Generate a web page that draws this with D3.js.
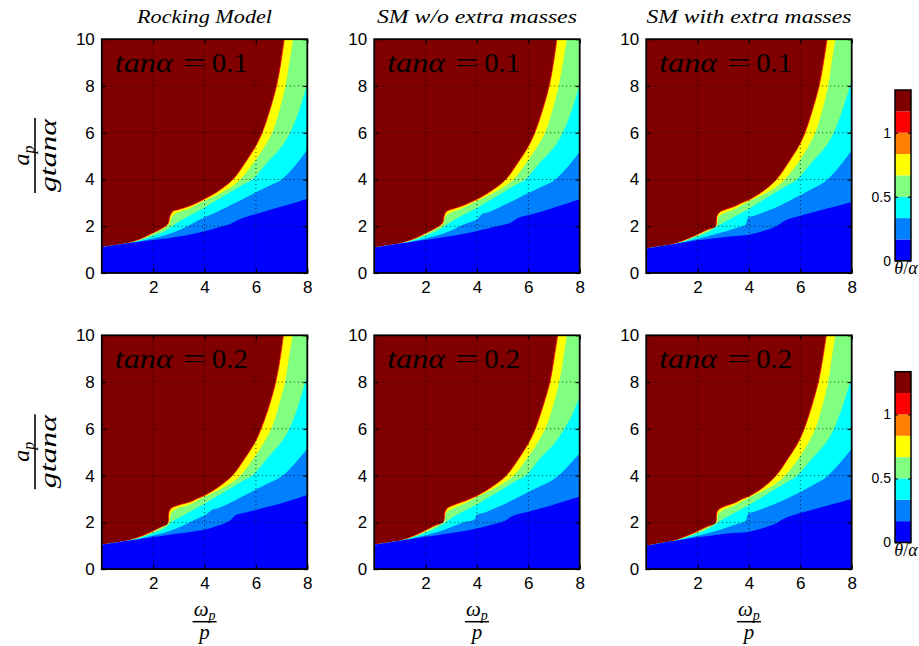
<!DOCTYPE html>
<html>
<head>
<meta charset="utf-8">
<title>Rocking response maps</title>
<script src="https://d3js.org/d3.v7.min.js"></script>
<style>
  body { margin: 0; background: #fff; }
  svg { display: block; }
  .tick text { font-family: "Liberation Sans", Arial, sans-serif; fill: #000; }
  .math { font-family: "Liberation Serif", "Times New Roman", serif; font-style: italic; fill: #000; }
  .rm { font-family: "Liberation Serif", "Times New Roman", serif; font-style: normal; fill: #000; }
</style>
</head>
<body>
<svg id="chart" width="919" height="646"></svg>
<script>
// ---- data ----
var models = ["Rocking Model", "SM w/o extra masses", "SM with extra masses"];
var tanAlphas = ["0.1", "0.2"];
var xTicks = [2, 4, 6, 8];
var yTicks = [0, 2, 4, 6, 8, 10];
var cbTicks = [0, 0.5, 1];
// theta/alpha contour levels and the jet(8) colours between them
var levels = [0, 1/6, 2/6, 3/6, 4/6, 5/6, 1, 7/6, 8/6];
var bandColors = ["#0000ff", "#0080ff", "#00ffff", "#80ff80", "#ffff00", "#ff8000", "#ff0000", "#800000"];

// contour boundaries [omega_p/p, a_p/(g tan alpha)]
// b1: 1/6, b2: 2/6, b3: 3/6, b4: 4/6, top: lower edge of the overturning (dark red) zone
var rm01 = {
  b1: [[0,1.1],[0.5,1.19],[1,1.27],[1.5,1.34],[2,1.41],[2.5,1.48],[3,1.56],[3.5,1.66],[4,1.79],[4.5,1.94],[5,2.1],[5.3,2.27],[5.6,2.4],[6,2.52],[6.5,2.68],[7,2.84],[7.5,3.0],[8,3.18]],
  b2: [[0,1.1],[0.5,1.19],[1,1.27],[1.5,1.37],[2,1.49],[2.5,1.63],[3,1.83],[3.5,2.1],[4,2.38],[4.5,2.62],[5.2,3.0],[6,3.45],[6.5,3.72],[7,4.0],[7.5,4.55],[8,5.28]],
  b3: [[0,1.1],[0.5,1.19],[1,1.27],[1.5,1.4],[2,1.6],[2.5,1.82],[2.85,2.08],[3,2.2],[3.5,2.5],[4,2.8],[4.3,3.0],[5,3.45],[5.5,3.78],[5.86,4.0],[6.5,4.8],[7,5.4],[7.33,6.0],[7.7,7.0],[8,8.1]],
  b4: [[0,1.1],[0.5,1.19],[1,1.27],[1.5,1.43],[2,1.68],[2.4,1.9],[2.62,2.08],[2.74,2.42],[2.9,2.56],[3.5,2.8],[3.83,3.0],[4.5,3.35],[5,3.65],[5.4,4.0],[6,4.85],[6.3,5.35],[6.63,6.0],[6.9,6.9],[7.15,8],[7.3,9],[7.45,10]],
  top: [[0,1.1],[0.5,1.19],[1,1.27],[1.5,1.45],[2,1.72],[2.4,1.95],[2.58,2.12],[2.66,2.45],[2.78,2.65],[3,2.72],[3.5,2.9],[3.7,3.0],[4,3.17],[4.5,3.48],[5.1,4.0],[5.6,4.75],[6.0,5.45],[6.24,6.0],[6.55,7.0],[6.8,8.0],[6.97,9.0],[7.1,10]]
};
var smwo01 = {
  b1: [[0,1.09],[0.5,1.18],[1,1.26],[1.5,1.34],[2,1.42],[2.5,1.5],[3,1.58],[3.5,1.68],[4,1.8],[4.5,1.93],[5,2.05],[5.3,2.14],[5.6,2.35],[6,2.48],[6.5,2.62],[7,2.8],[7.5,2.97],[8,3.15]],
  b2: [[0,1.09],[0.5,1.18],[1,1.26],[1.5,1.36],[2,1.48],[2.5,1.62],[3,1.82],[3.5,2.08],[4,2.3],[4.2,2.52],[4.5,2.62],[5.2,2.98],[6,3.42],[6.5,3.68],[7,3.96],[7.5,4.5],[8,5.19]],
  b3: [[0,1.09],[0.5,1.18],[1,1.26],[1.5,1.39],[2,1.6],[2.5,1.83],[2.85,2.08],[3,2.2],[3.5,2.5],[4,2.78],[4.3,2.98],[5,3.43],[5.5,3.76],[5.86,3.98],[6.5,4.78],[7,5.38],[7.33,5.98],[7.7,6.98],[8,8.04]],
  b4: [[0,1.09],[0.5,1.18],[1,1.26],[1.5,1.42],[2,1.66],[2.45,1.92],[2.68,2.1],[2.8,2.45],[2.95,2.56],[3.5,2.8],[3.85,3.0],[4.5,3.35],[5,3.65],[5.42,4.0],[6,4.83],[6.3,5.33],[6.65,6.0],[6.92,6.9],[7.18,8],[7.35,9],[7.5,10]],
  top: [[0,1.09],[0.5,1.18],[1,1.26],[1.5,1.44],[2,1.7],[2.45,1.96],[2.66,2.14],[2.74,2.5],[2.85,2.66],[3,2.72],[3.5,2.9],[3.7,3.0],[4,3.15],[4.5,3.47],[5.1,3.98],[5.6,4.73],[6,5.42],[6.25,6.0],[6.56,7.0],[6.81,8.0],[6.98,9.0],[7.11,10]]
};
var smw01 = {
  b1: [[0,1.04],[0.5,1.13],[1,1.22],[1.5,1.31],[2,1.4],[2.5,1.47],[3,1.53],[3.5,1.58],[4,1.64],[4.5,1.78],[5,1.97],[5.4,2.24],[5.6,2.33],[6,2.45],[6.5,2.6],[7,2.75],[7.5,2.89],[8,3.04]],
  b2: [[0,1.04],[0.5,1.13],[1,1.22],[1.5,1.33],[2,1.46],[2.5,1.6],[3,1.75],[3.5,1.93],[3.85,2.05],[3.98,2.38],[4.2,2.45],[5,2.78],[5.6,3.1],[6.5,3.62],[7,3.95],[7.5,4.52],[8,5.26]],
  b3: [[0,1.04],[0.5,1.13],[1,1.22],[1.5,1.36],[2,1.56],[2.5,1.8],[2.85,2.05],[3,2.15],[3.5,2.45],[4,2.74],[4.3,2.95],[5,3.42],[5.5,3.75],[5.85,3.98],[6.5,4.8],[7,5.42],[7.3,6.0],[7.65,7.0],[8,8.26]],
  b4: [[0,1.04],[0.5,1.13],[1,1.22],[1.5,1.39],[2,1.62],[2.45,1.85],[2.72,2.0],[2.82,2.4],[2.95,2.52],[3.5,2.76],[3.82,2.97],[4.5,3.33],[5,3.63],[5.38,3.98],[6,4.85],[6.3,5.4],[6.58,6.0],[6.85,6.95],[7.08,8],[7.22,9],[7.36,10]],
  top: [[0,1.04],[0.5,1.13],[1,1.22],[1.5,1.41],[2,1.65],[2.45,1.88],[2.68,1.92],[2.76,2.45],[2.86,2.6],[3,2.68],[3.5,2.88],[3.7,2.99],[4,3.13],[4.5,3.46],[5.05,3.98],[5.55,4.75],[5.95,5.45],[6.18,6.0],[6.48,7.0],[6.73,8.0],[6.9,9.0],[7.04,10]]
};
var rm02 = {
  b1: [[0,1.04],[0.5,1.13],[1,1.21],[1.5,1.29],[2,1.37],[2.5,1.45],[3,1.52],[3.5,1.6],[4,1.68],[4.5,1.85],[5,2.08],[5.2,2.3],[5.6,2.42],[6,2.53],[6.5,2.68],[7,2.82],[7.5,2.99],[8,3.17]],
  b2: [[0,1.04],[0.5,1.13],[1,1.21],[1.5,1.31],[2,1.44],[2.5,1.58],[3,1.78],[3.5,2.05],[4,2.3],[4.3,2.54],[4.6,2.64],[5.2,2.95],[6,3.4],[6.5,3.68],[7,3.97],[7.5,4.5],[8,5.16]],
  b3: [[0,1.04],[0.5,1.13],[1,1.21],[1.5,1.34],[2,1.54],[2.5,1.78],[2.75,2.05],[3,2.2],[3.5,2.5],[4,2.8],[4.3,3.0],[5,3.45],[5.5,3.78],[5.86,4.0],[6.5,4.82],[7,5.45],[7.3,6.0],[7.65,7.0],[8,8.3]],
  b4: [[0,1.04],[0.5,1.13],[1,1.21],[1.5,1.37],[2,1.6],[2.35,1.8],[2.58,1.95],[2.7,2.4],[2.85,2.55],[3.5,2.8],[3.82,3.0],[4.5,3.35],[5,3.66],[5.4,4.0],[6,4.88],[6.3,5.4],[6.6,6.0],[6.88,6.95],[7.13,8],[7.28,9],[7.43,10]],
  top: [[0,1.04],[0.5,1.13],[1,1.21],[1.5,1.39],[2,1.63],[2.35,1.82],[2.55,1.9],[2.62,2.45],[2.72,2.62],[3,2.74],[3.5,2.9],[3.68,3.0],[4,3.15],[4.5,3.48],[5.08,4.0],[5.58,4.76],[5.98,5.46],[6.2,6.0],[6.52,7.0],[6.77,8.0],[6.94,9.0],[7.07,10]]
};
var smwo02 = {
  b1: [[0,1.04],[0.5,1.13],[1,1.21],[1.5,1.3],[2,1.38],[2.5,1.46],[3,1.54],[3.5,1.63],[4,1.74],[4.5,1.88],[5,2.02],[5.4,2.28],[5.7,2.38],[6,2.45],[6.5,2.6],[7,2.76],[7.5,2.93],[8,3.1]],
  b2: [[0,1.04],[0.5,1.13],[1,1.21],[1.5,1.32],[2,1.45],[2.5,1.6],[3,1.8],[3.5,2.0],[3.9,2.12],[4.0,2.32],[4.3,2.42],[5.2,2.85],[6,3.3],[6.5,3.56],[7,3.85],[7.5,4.35],[8,4.95]],
  b3: [[0,1.04],[0.5,1.13],[1,1.21],[1.5,1.35],[2,1.56],[2.5,1.8],[2.85,2.06],[3,2.18],[3.5,2.48],[4,2.76],[4.3,2.97],[5,3.42],[5.5,3.76],[5.9,4.0],[6.5,4.78],[7,5.35],[7.4,6.0],[7.75,6.7],[8,7.4]],
  b4: [[0,1.04],[0.5,1.13],[1,1.21],[1.5,1.38],[2,1.62],[2.45,1.86],[2.7,2.02],[2.82,2.42],[2.97,2.55],[3.5,2.8],[3.85,3.0],[4.5,3.35],[5,3.65],[5.43,4.0],[6,4.82],[6.3,5.3],[6.66,6.0],[6.94,6.9],[7.2,8],[7.36,9],[7.5,10]],
  top: [[0,1.04],[0.5,1.13],[1,1.21],[1.5,1.4],[2,1.66],[2.45,1.9],[2.68,1.95],[2.76,2.45],[2.86,2.62],[3,2.7],[3.5,2.9],[3.72,3.0],[4,3.14],[4.5,3.46],[5.12,3.98],[5.62,4.72],[6.02,5.42],[6.27,6.0],[6.58,7.0],[6.84,8.0],[7.0,9.0],[7.14,10]]
};
var smw02 = {
  b1: [[0,1.0],[0.5,1.1],[1,1.19],[1.5,1.28],[2,1.36],[2.5,1.43],[3,1.5],[3.5,1.55],[4,1.6],[4.5,1.74],[5,1.93],[5.4,2.18],[5.7,2.3],[6,2.4],[6.5,2.55],[7,2.7],[7.5,2.85],[8,3.0]],
  b2: [[0,1.0],[0.5,1.1],[1,1.19],[1.5,1.3],[2,1.43],[2.5,1.57],[3,1.73],[3.5,1.92],[3.85,2.05],[3.98,2.38],[4.2,2.45],[5,2.78],[5.6,3.08],[6.5,3.6],[7,3.93],[7.5,4.48],[8,5.16]],
  b3: [[0,1.0],[0.5,1.1],[1,1.19],[1.5,1.33],[2,1.53],[2.5,1.77],[2.85,2.03],[3,2.14],[3.5,2.44],[4,2.73],[4.3,2.94],[5,3.4],[5.5,3.74],[5.85,3.97],[6.5,4.78],[7,5.4],[7.3,5.98],[7.65,6.98],[8,8.2]],
  b4: [[0,1.0],[0.5,1.1],[1,1.19],[1.5,1.36],[2,1.59],[2.45,1.82],[2.72,1.98],[2.82,2.38],[2.95,2.5],[3.5,2.75],[3.82,2.96],[4.5,3.32],[5,3.62],[5.38,3.97],[6,4.84],[6.3,5.38],[6.58,6.0],[6.85,6.95],[7.08,8],[7.22,9],[7.36,10]],
  top: [[0,1.0],[0.5,1.1],[1,1.19],[1.5,1.38],[2,1.62],[2.45,1.85],[2.68,1.9],[2.76,2.45],[2.86,2.58],[3,2.66],[3.5,2.86],[3.7,2.98],[4,3.12],[4.5,3.45],[5.03,3.97],[5.52,4.73],[5.92,5.43],[6.15,6.0],[6.45,7.0],[6.7,8.0],[6.87,9.0],[7.01,10]]
};
var panels = [[rm01, smwo01, smw01], [rm02, smwo02, smw02]];

// ---- layout ----
var svg = d3.select("#chart");
var colLeft = [101.8, 374.2, 646.2], pw = 205.5;
var rowTop = [39.2, 335.3], ph = 233.8;
var cbX = 895, cbW = 16, cbTop = [90, 371.7], cbH = 170.8;
var titleW = [135, 200, 205];

var line = d3.line().curve(d3.curveCatmullRom.alpha(0.5));

panels.forEach(function(row, r) {
  row.forEach(function(d, c) {
    var x = d3.scaleLinear().domain([0, 8]).range([colLeft[c], colLeft[c] + pw]);
    var y = d3.scaleLinear().domain([0, 10]).range([rowTop[r] + ph, rowTop[r]]);
    line.x(function(p) { return x(p[0]); }).y(function(p) { return y(p[1]); });

    var id = "clip" + r + c;
    svg.append("clipPath").attr("id", id).append("rect")
        .attr("x", x(0)).attr("y", y(10)).attr("width", pw).attr("height", ph);
    var g = svg.append("g").attr("clip-path", "url(#" + id + ")");

    // region under a boundary, closed along the right and bottom edges
    function region(pts) {
      var last = pts[pts.length - 1];
      return line(pts) + "L" + x(8) + "," + y(last[1]) + "L" + x(8) + "," + y(0) + "L" + x(0) + "," + y(0) + "Z";
    }

    g.append("rect").attr("x", x(0)).attr("y", y(10)).attr("width", pw).attr("height", ph)
        .attr("fill", bandColors[7]);
    g.append("path").attr("d", region(d.top)).attr("fill", bandColors[4]);
    g.append("path").attr("d", line(d.top)).attr("fill", "none")
        .attr("stroke", bandColors[6]).attr("stroke-width", 0.8);
    g.append("path").attr("d", region(d.b4)).attr("fill", bandColors[3]);
    g.append("path").attr("d", region(d.b3)).attr("fill", bandColors[2]);
    g.append("path").attr("d", region(d.b2)).attr("fill", bandColors[1]);
    g.append("path").attr("d", region(d.b1)).attr("fill", bandColors[0]);

    // grid
    g.selectAll(".gx").data(xTicks.filter(function(t) { return t < 8; })).enter().append("line")
        .attr("x1", x).attr("x2", x).attr("y1", y(0)).attr("y2", y(10))
        .attr("stroke", "#000").attr("stroke-width", 0.8).attr("stroke-dasharray", "1,3");
    g.selectAll(".gy").data(yTicks.filter(function(t) { return t > 0 && t < 10; })).enter().append("line")
        .attr("y1", y).attr("y2", y).attr("x1", x(0)).attr("x2", x(8))
        .attr("stroke", "#000").attr("stroke-width", 0.8).attr("stroke-dasharray", "1,3");

    // axes, ticks pointing inwards like matlab
    var ax = svg.append("g").attr("transform", "translate(0," + y(0) + ")")
        .call(d3.axisBottom(x).tickValues(xTicks).tickSize(-4).tickPadding(8));
    ax.selectAll("text").style("font-size", "17px");
    svg.append("g").attr("transform", "translate(0," + y(10) + ")")
        .call(d3.axisTop(x).tickValues(xTicks).tickSize(-4).tickFormat(""));
    var ay = svg.append("g").attr("transform", "translate(" + x(0) + ",0)")
        .call(d3.axisLeft(y).tickValues(yTicks).tickSize(-4).tickPadding(7));
    ay.selectAll("text").style("font-size", "17px");
    svg.append("g").attr("transform", "translate(" + x(8) + ",0)")
        .call(d3.axisRight(y).tickValues(yTicks).tickSize(-4).tickFormat(""));
    svg.selectAll(".domain").remove();
    svg.selectAll(".tick line").attr("stroke-width", 1.2);

    svg.append("rect").attr("x", x(0)).attr("y", y(10)).attr("width", pw).attr("height", ph)
        .attr("fill", "none").attr("stroke", "#000").attr("stroke-width", 1.8);

    // tan(alpha) label, pieces placed like the LaTeX original
    var by = y(10) + 32.5;
    svg.append("text").attr("class", "math").attr("x", x(0) + 13).attr("y", by)
        .style("font-size", "27px").attr("textLength", 58).attr("lengthAdjust", "spacingAndGlyphs")
        .text("tanα");
    svg.append("text").attr("class", "rm").attr("x", x(0) + 81).attr("y", by)
        .style("font-size", "27px").attr("textLength", 23).attr("lengthAdjust", "spacingAndGlyphs")
        .text("=");
    svg.append("text").attr("class", "rm").attr("x", x(0) + 110).attr("y", by)
        .style("font-size", "27px").attr("textLength", 36).attr("lengthAdjust", "spacingAndGlyphs")
        .text(tanAlphas[r]);

    if (r === 0) {
      svg.append("text").attr("class", "math").attr("x", x(4)).attr("y", 23)
          .attr("text-anchor", "middle").style("font-size", "18px")
          .attr("textLength", titleW[c]).attr("lengthAdjust", "spacingAndGlyphs")
          .text(models[c]);
    } else {
      // x label: omega_p / p
      var xl = svg.append("g").attr("transform", "translate(" + x(4) + ",621.7)");
      var n = xl.append("text").attr("class", "math").attr("y", -6).attr("text-anchor", "middle")
          .style("font-size", "21px");
      n.append("tspan").text("ω");
      n.append("tspan").attr("dy", 4).style("font-size", "14px").text("p");
      xl.append("line").attr("x1", -12).attr("x2", 12).attr("stroke", "#000").attr("stroke-width", 1.5);
      xl.append("text").attr("class", "math").attr("y", 17).attr("text-anchor", "middle")
          .style("font-size", "21px").text("p");
    }
  });

  // y label: a_p / (g tan alpha)
  var yl = svg.append("g").attr("transform", "translate(35," + (rowTop[r] + ph / 2 - 0.5) + ") rotate(-90)");
  var num = yl.append("text").attr("class", "math").attr("y", -6).attr("text-anchor", "middle")
      .style("font-size", "24px");
  num.append("tspan").text("a");
  num.append("tspan").attr("dy", 5).style("font-size", "16px").text("p");
  yl.append("line").attr("x1", -37.5).attr("x2", 37.5).attr("stroke", "#000").attr("stroke-width", 1.6);
  yl.append("text").attr("class", "math").attr("y", 21).attr("text-anchor", "middle")
      .style("font-size", "24px").attr("textLength", 73).attr("lengthAdjust", "spacingAndGlyphs").text("gtanα");

  // colorbar
  var cy = d3.scaleLinear().domain([0, 8 / 6]).range([cbTop[r] + cbH, cbTop[r]]);
  var cb = svg.append("g");
  cb.selectAll("rect").data(bandColors).enter().append("rect")
      .attr("x", cbX).attr("width", cbW)
      .attr("y", function(col, i) { return cy(levels[i + 1]); })
      .attr("height", function(col, i) { return cy(levels[i]) - cy(levels[i + 1]); })
      .attr("fill", function(col) { return col; });
  var cax = cb.append("g").attr("transform", "translate(" + cbX + ",0)")
      .call(d3.axisLeft(cy).tickValues(cbTicks).tickSize(-3).tickPadding(4).tickFormat(d3.format("~g")));
  cax.selectAll("text").style("font-size", "14px");
  cb.append("g").attr("transform", "translate(" + (cbX + cbW) + ",0)")
      .call(d3.axisRight(cy).tickValues(cbTicks).tickSize(-3).tickFormat(""));
  cb.selectAll(".domain").remove();
  cb.append("rect").attr("x", cbX).attr("y", cbTop[r]).attr("width", cbW).attr("height", cbH)
      .attr("fill", "none").attr("stroke", "#000").attr("stroke-width", 1.5);
  var cl = cb.append("text").attr("class", "math").attr("x", 906).attr("y", cbTop[r] + cbH + 13.5)
      .attr("text-anchor", "middle").style("font-size", "18px");
  cl.append("tspan").text("θ");
  cl.append("tspan").attr("class", "rm").text("/");
  cl.append("tspan").text("α");
});
</script>
</body>
</html>
